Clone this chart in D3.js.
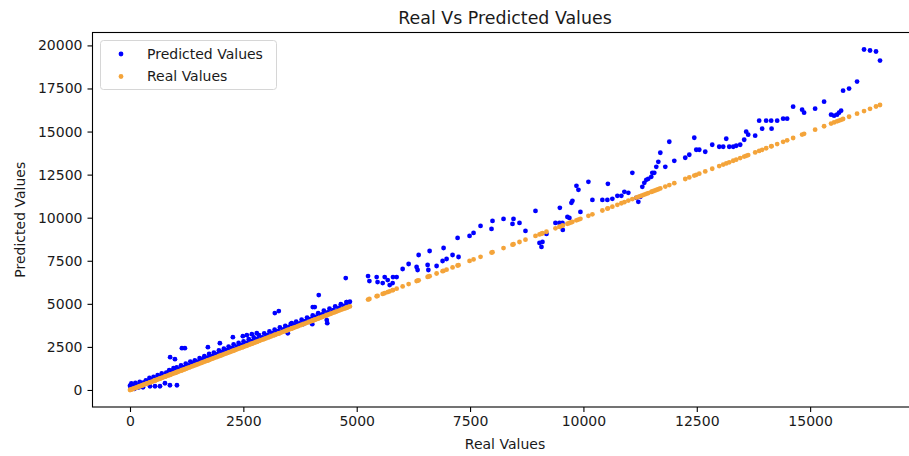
<!DOCTYPE html>
<html>
<head>
<meta charset="utf-8">
<script src="https://cdn.jsdelivr.net/npm/d3@7"></script>
<style>
  html, body { margin: 0; padding: 0; background: #ffffff; overflow: hidden; }
  svg { display: block; }
</style>
</head>
<body>
<svg id="chart" width="909" height="456"></svg>
<script>
// Real (x) and predicted (y) values, one entry per observation.
const realValues = [
  0, 15, 30, 50, 70, 95, 120, 140, 165, 190, 215, 240, 265, 286, 290, 320, 350, 375, 400, 430,
  441, 460, 490, 520, 550, 551, 580, 610, 640, 661, 670, 700, 735, 770, 771, 800, 830, 865, 881, 885,
  900, 930, 960, 991, 995, 1030, 1035, 1060, 1090, 1125, 1145, 1160, 1195, 1211, 1230, 1260, 1295, 1330, 1365, 1400,
  1430, 1465, 1500, 1535, 1570, 1600, 1640, 1675, 1710, 1718, 1745, 1780, 1815, 1850, 1890, 1925, 1960, 1982, 1995, 2030,
  2070, 2105, 2140, 2175, 2210, 2250, 2269, 2285, 2320, 2360, 2395, 2430, 2470, 2489, 2505, 2545, 2577, 2580, 2620, 2655,
  2687, 2695, 2730, 2770, 2797, 2805, 2845, 2880, 2920, 2960, 2995, 3035, 3075, 3110, 3150, 3190, 3194, 3230, 3270, 3282,
  3305, 3345, 3385, 3425, 3465, 3480, 3505, 3545, 3568, 3585, 3625, 3665, 3705, 3745, 3785, 3825, 3865, 3905, 3950, 3990,
  4020, 4030, 4031, 4070, 4075, 4110, 4150, 4163, 4195, 4235, 4275, 4315, 4339, 4350, 4360, 4400, 4440, 4485, 4525, 4565,
  4610, 4650, 4690, 4735, 4758, 4775, 4780, 4815, 4850,
  5250, 5280, 5440, 5460, 5573, 5617, 5683, 5727, 5793, 5800, 5881, 6013, 6145, 6321, 6343, 6366, 6564, 6580, 6608, 6762,
  6894, 6916, 6982, 7114, 7225, 7246, 7489, 7577, 7731, 7973, 7995, 8238, 8436, 8458, 8590, 8722, 8943, 9031, 9075, 9097,
  9185, 9383, 9471, 9480, 9537, 9545, 9647, 9691, 9735, 9758, 9846, 9890, 9934, 10110, 10198, 10418, 10528, 10540, 10638, 10749,
  10837, 10903, 10991, 11079, 11167, 11211, 11255, 11299, 11343, 11387, 11431, 11497, 11519, 11563, 11607, 11652, 11696, 11806, 11894, 12004,
  12246, 12335, 12445, 12489, 12555, 12687, 12841, 12995, 13083, 13150, 13216, 13304, 13370, 13458, 13546, 13590, 13634, 13788, 13876, 13942,
  14030, 14141, 14150, 14273, 14405, 14493, 14625, 14823, 14867, 15110, 15308, 15462, 15528, 15594, 15638, 15683, 15727, 15859, 16035, 16189,
  16321, 16453, 16541
];
const predictedValues = [
  250, 120, 380, 180, 290, 60, 410, 230, 300, 150, 470, 280, 350, 157, 420, 400, 560, 450, 520, 700,
  215, 530, 620, 760, 640, 215, 590, 860, 700, 215, 780, 960, 820, 870, 390, 1010, 900, 1150, 273, 1902,
  960, 1090, 1260, 1786, 1080, 1310, 273, 1140, 1200, 1420, 2426, 1250, 1330, 2426, 1530, 1320, 1420, 1650, 1440, 1560,
  1720, 1530, 1650, 1850, 1640, 1770, 1960, 1750, 1880, 2484, 2090, 1850, 1960, 2170, 1970, 2080, 2290, 2717, 2070, 2210,
  2400, 2180, 2310, 2520, 2290, 2430, 3066, 2640, 2390, 2510, 2730, 2490, 2610, 3124, 2820, 2600, 3182, 2730, 2950, 2700,
  3240, 2830, 3050, 2830, 3298, 2960, 3180, 2940, 3050, 3290, 3060, 3180, 3400, 3160, 3300, 3500, 4461, 3300, 3420, 4578,
  3630, 3390, 3520, 3720, 3470, 3290, 3640, 3830, 3880, 3600, 3750, 3960, 3720, 3870, 4080, 3830, 3990, 4200, 3960, 4120,
  3822, 4330, 4811, 4090, 4811, 4260, 4460, 5509, 4230, 4380, 4600, 4340, 4055, 3880, 4500, 4720, 4480, 4630, 4850, 4600,
  4770, 4980, 4730, 4900, 6498, 5100, 5102, 4880, 5120,
  6613, 6322, 6556, 6264, 6206, 6556, 6380, 6090, 6206, 6556, 6556, 7021, 7312, 7137, 6963, 7835, 7254, 6963, 8068, 7196,
  7486, 8242, 7603, 7835, 8824, 7719, 8940, 9115, 9522, 9348, 9813, 9929, 9639, 9929, 9697, 9232, 10395, 8534, 8301, 8592,
  9057, 9697, 9697, 10570, 9697, 9290, 10046, 9988, 10860, 10977, 11849, 11617, 10337, 12081, 11034, 11034, 11034, 11965, 11093, 11268,
  11268, 11500, 11442, 12605, 11151, 10919, 11210, 11791, 12024, 12198, 12256, 12373, 12605, 12605, 12954, 13245, 13768, 12954, 14408, 13303,
  13478, 13652, 14641, 13943, 13943, 13827, 14234, 14118, 14118, 14583, 14118, 14118, 14176, 14234, 14525, 14990, 14816, 14758, 15630, 15165,
  15630, 15630, 15165, 15630, 15747, 15747, 16445, 16270, 16096, 16329, 16736, 15980, 15921, 15980, 16096, 16212, 17375, 17492, 17899, 19761,
  19703, 19645, 19121
];

const xTicks = [0, 2500, 5000, 7500, 10000, 12500, 15000];
const yTicks = [0, 2500, 5000, 7500, 10000, 12500, 15000, 17500, 20000];

const chartTitle = "Real Vs Predicted Values";
const xLabel = "Real Values";
const yLabel = "Predicted Values";
const seriesNames = ["Predicted Values", "Real Values"];
const seriesColors = ["#0000ff", "#f4a43a"];

const FONT = "'DejaVu Sans', sans-serif";
const TEXT = "#1a1a1a";

const svg = d3.select("#chart");
const plot = { left: 92.5, right: 917.5, top: 32.5, bottom: 407 };

// Axis limits: data extent with a 5% margin on each side.
function padded(ext) {
  const m = (ext[1] - ext[0]) * 0.05;
  return [ext[0] - m, ext[1] + m];
}
const x = d3.scaleLinear()
  .domain(padded(d3.extent(realValues)))
  .range([plot.left, plot.right]);
const y = d3.scaleLinear()
  .domain(padded(d3.extent(realValues.concat(predictedValues))))
  .range([plot.bottom, plot.top]);

const points = realValues.map((r, i) => ({ real: r, pred: predictedValues[i] }));

svg.append("rect").attr("width", 909).attr("height", 456).attr("fill", "#ffffff");

// Scatter: predicted first, real values drawn on top.
const marks = svg.append("g");
marks.selectAll("circle.pred").data(points).join("circle")
  .attr("class", "pred")
  .attr("cx", d => x(d.real))
  .attr("cy", d => y(d.pred))
  .attr("r", 2.4)
  .attr("fill", seriesColors[0]);
marks.selectAll("circle.real").data(points).join("circle")
  .attr("class", "real")
  .attr("cx", d => x(d.real))
  .attr("cy", d => y(d.real))
  .attr("r", 2.4)
  .attr("fill", seriesColors[1]);

// Axes
const xAxis = svg.append("g")
  .attr("transform", `translate(0,${plot.bottom})`)
  .call(d3.axisBottom(x).tickValues(xTicks).tickSize(5).tickPadding(4).tickFormat(d3.format("d")));
const yAxis = svg.append("g")
  .attr("transform", `translate(${plot.left},0)`)
  .call(d3.axisLeft(y).tickValues(yTicks).tickSize(5).tickPadding(5).tickFormat(d3.format("d")));
[xAxis, yAxis].forEach(g => {
  g.select(".domain").remove();
  g.selectAll(".tick line").attr("stroke", "#000").attr("stroke-width", 1.1);
  g.selectAll(".tick text")
    .attr("fill", TEXT)
    .style("font-family", FONT)
    .style("font-size", "14px");
});

// Spines
svg.append("rect")
  .attr("x", plot.left).attr("y", plot.top)
  .attr("width", plot.right - plot.left).attr("height", plot.bottom - plot.top)
  .attr("fill", "none").attr("stroke", "#000").attr("stroke-width", 1.1);

// Title and axis labels
svg.append("text")
  .attr("x", (plot.left + plot.right) / 2).attr("y", 24)
  .attr("text-anchor", "middle")
  .attr("fill", TEXT)
  .style("font-family", FONT).style("font-size", "17.4px")
  .text(chartTitle);
svg.append("text")
  .attr("x", (plot.left + plot.right) / 2).attr("y", 449)
  .attr("text-anchor", "middle")
  .attr("fill", TEXT)
  .style("font-family", FONT).style("font-size", "14px")
  .text(xLabel);
svg.append("text")
  .attr("transform", `translate(25,${(plot.top + plot.bottom) / 2}) rotate(-90)`)
  .attr("text-anchor", "middle")
  .attr("fill", TEXT)
  .style("font-family", FONT).style("font-size", "14px")
  .text(yLabel);

// Legend
const legend = svg.append("g");
legend.append("rect")
  .attr("x", 100.5).attr("y", 40.5).attr("width", 176).attr("height", 49).attr("rx", 3)
  .attr("fill", "#ffffff").attr("fill-opacity", 0.8)
  .attr("stroke", "#d6d6d6").attr("stroke-width", 1);
seriesNames.forEach((name, i) => {
  const cy = 54 + i * 22.5;
  legend.append("circle")
    .attr("cx", 121).attr("cy", cy).attr("r", 2.4)
    .attr("fill", seriesColors[i]);
  legend.append("text")
    .attr("x", 147).attr("y", cy).attr("dy", "0.35em")
    .attr("fill", TEXT)
    .style("font-family", FONT).style("font-size", "14px")
    .text(name);
});
</script>
</body>
</html>
